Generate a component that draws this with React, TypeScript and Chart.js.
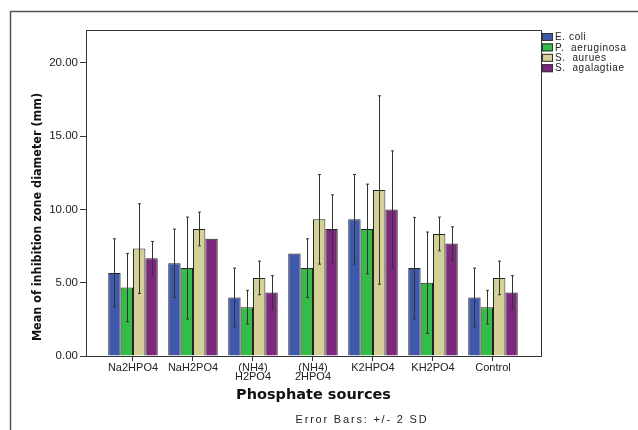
import React, { useEffect, useRef } from 'react';
import { Chart, registerables } from 'chart.js';
Chart.register(...registerables);

const categories: string[][] = [['Na2HPO4'], ['NaH2PO4'], ['(NH4)', 'H2PO4'], ['(NH4)', '2HPO4'], ['K2HPO4'], ['KH2PO4'], ['Control']];
const seriesNames = ['E. coli', 'P.  aeruginosa', 'S.  aurues', 'S.  agalagtiae'];
const colors = ['#3E58AC', '#34BB48', '#D5D097', '#7C287D'];
const ecoli = [5.67, 6.33, 4.0, 7.0, 9.33, 6.0, 4.0];
const ecoliErr = [2.33, 2.33, 2.0, 0, 3.06, 3.46, 2.0];
const paer = [4.67, 6.0, 3.33, 6.0, 8.67, 5.0, 3.33];
const paerErr = [2.33, 3.48, 1.15, 2.0, 3.06, 3.46, 1.15];
const saur = [7.33, 8.67, 5.33, 9.33, 11.33, 8.33, 5.33];
const saurErr = [3.06, 1.15, 1.15, 3.06, 6.43, 1.15, 1.15];
const saga = [6.67, 8.0, 4.33, 8.67, 10.0, 7.67, 4.33];
const sagaErr = [1.15, 0, 1.15, 2.33, 4.0, 1.15, 1.15];
const yTicks = [0, 5, 10, 15, 20];
const yTitle = 'Mean of inhibition zone diameter (mm)';
const xTitle = 'Phosphate sources';
const footnote = 'Error Bars: +/- 2 SD';

const values = [ecoli, paer, saur, saga];
const errors = [ecoliErr, paerErr, saurErr, sagaErr];
const FONT = '"Liberation Sans", Arial, sans-serif';

const errorBarPlugin = {
  id: 'errorBars',
  afterDatasetsDraw(chart: any) {
    const ctx = chart.ctx;
    const ys = chart.scales.y;
    ctx.save();
    ctx.strokeStyle = '#333';
    ctx.lineWidth = 1;
    chart.data.datasets.forEach((ds: any, di: number) => {
      const meta = chart.getDatasetMeta(di);
      meta.data.forEach((el: any, i: number) => {
        const e = errors[di][i];
        if (!e) return;
        const v = values[di][i];
        const x = Math.round(el.x) + 0.5;
        const yt = ys.getPixelForValue(v + e);
        const yb = ys.getPixelForValue(v - e);
        ctx.beginPath();
        ctx.moveTo(x, yt);
        ctx.lineTo(x, yb);
        ctx.moveTo(x - 1.5, yt);
        ctx.lineTo(x + 1.5, yt);
        ctx.moveTo(x - 1.5, yb);
        ctx.lineTo(x + 1.5, yb);
        ctx.stroke();
      });
    });
    ctx.restore();
  },
};

const decorPlugin = {
  id: 'decor',
  afterDraw(chart: any) {
    const ctx = chart.ctx;
    const a = chart.chartArea;
    ctx.save();
    // plot frame top & right
    ctx.strokeStyle = '#333';
    ctx.lineWidth = 1;
    ctx.beginPath();
    ctx.moveTo(a.left, a.top + 0.5);
    ctx.lineTo(a.right + 0.5, a.top + 0.5);
    ctx.lineTo(a.right + 0.5, a.bottom);
    ctx.stroke();
    // outer frame
    ctx.strokeStyle = '#555';
    ctx.lineWidth = 1.5;
    ctx.beginPath();
    ctx.moveTo(10.5, 430);
    ctx.lineTo(10.5, 11.5);
    ctx.lineTo(638, 11.5);
    ctx.stroke();
    // legend
    ctx.font = '10px ' + FONT;
    ctx.textBaseline = 'middle';
    ctx.textAlign = 'left';
    (ctx as any).letterSpacing = '0.6px';
    seriesNames.forEach((n, i) => {
      const y = 33 + i * 10.4;
      ctx.fillStyle = colors[i];
      ctx.fillRect(542, y, 11, 8);
      ctx.strokeStyle = '#333';
      ctx.lineWidth = 1;
      ctx.strokeRect(542.5, y + 0.5, 10, 7);
      ctx.fillStyle = '#222';
      ctx.fillText(n, 555, y + 4.5);
    });
    (ctx as any).letterSpacing = '0px';
    // y title
    ctx.save();
    ctx.translate(38, 217);
    ctx.rotate(-Math.PI / 2);
    ctx.font = 'bold 12.5px "Liberation Sans Narrow", "DejaVu Sans Condensed", sans-serif';
    ctx.textAlign = 'center';
    ctx.fillStyle = '#111';
    ctx.fillText(yTitle, 0, 0);
    ctx.restore();
    // x title
    ctx.font = 'bold 14.5px "DejaVu Sans", sans-serif';
    ctx.textAlign = 'center';
    ctx.fillStyle = '#111';
    ctx.fillText(xTitle, 313.5, 395);
    // footnote
    ctx.font = '11px ' + FONT;
    (ctx as any).letterSpacing = '1.8px';
    ctx.fillStyle = '#222';
    ctx.fillText(footnote, 362, 420);
    (ctx as any).letterSpacing = '0px';
    ctx.restore();
  },
};

export default function App() {
  const ref = useRef<HTMLCanvasElement>(null);
  useEffect(() => {
    if (!ref.current) return;
    const chart = new Chart(ref.current, {
      type: 'bar',
      data: {
        datasets: values.map((vals, di) => ({
          label: seriesNames[di],
          data: vals.map((v, i) => ({ x: i, y: v })),
          backgroundColor: colors[di],
          borderColor: '#222',
          borderWidth: 1,
          categoryPercentage: 0.825,
          barPercentage: 1,
        })),
      },
      options: {
        animation: false,
        responsive: false,
        maintainAspectRatio: false,
        layout: { padding: { top: 30, right: 97, left: 0, bottom: 0 } },
        plugins: { legend: { display: false }, tooltip: { enabled: false }, title: { display: false } },
        scales: {
          x: {
            type: 'linear',
            offset: false,
            min: -0.783,
            max: 6.8,
            afterBuildTicks: (s: any) => {
              s.ticks = categories.map((_, i) => ({ value: i }));
            },
            afterFit: (s: any) => {
              s.height = 74;
            },
            ticks: {
              callback: (v: any) => categories[Math.round(Number(v))],
              font: { family: FONT, size: 11, lineHeight: 0.85 },
              color: '#222',
              maxRotation: 0,
              autoSkip: false,
              padding: 2,
            },
            grid: { offset: false, drawOnChartArea: false, drawTicks: true, tickLength: 5, color: '#333' },
            border: { color: '#333' },
          },
          y: {
            min: 0,
            max: 22.25,
            afterBuildTicks: (s: any) => {
              s.ticks = yTicks.map((v) => ({ value: v }));
            },
            afterFit: (s: any) => {
              s.width = 86;
            },
            ticks: {
              callback: (v: any) => Number(v).toFixed(2),
              font: { family: FONT, size: 11.5 },
              color: '#222',
              padding: 2,
            },
            grid: { drawOnChartArea: false, drawTicks: true, tickLength: 6, color: '#333' },
            border: { color: '#333' },
          },
        },
      },
      plugins: [errorBarPlugin, decorPlugin],
    } as any);
    return () => chart.destroy();
  }, []);
  return (
    <div style={{ position: 'fixed', left: 0, top: 0, width: 638, height: 430, background: '#fff' }}>
      <canvas ref={ref} width={638} height={430} style={{ display: 'block' }} />
    </div>
  );
}
